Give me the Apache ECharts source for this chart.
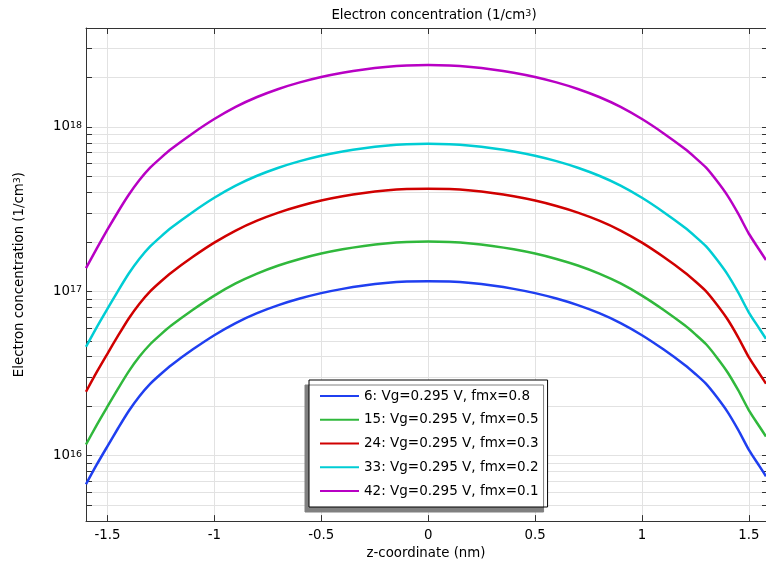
<!DOCTYPE html>
<html>
<head>
<meta charset="utf-8">
<script src="https://cdn.jsdelivr.net/npm/echarts@6/dist/echarts.min.js"></script>
<style>
  html, body { margin: 0; padding: 0; background: #fff; }
  #chart { width: 766px; height: 565px; }
</style>
</head>
<body>
<div id="chart"></div>
<script>
// z-coordinate (nm)
const zs = [-1.6, -1.55, -1.5, -1.45, -1.4, -1.35, -1.3, -1.25, -1.2, -1.1, -1.0, -0.9, -0.8, -0.7, -0.6, -0.5, -0.4, -0.3, -0.2, -0.1, 0,
  0.1, 0.2, 0.3, 0.4, 0.5, 0.6, 0.7, 0.8, 0.9, 1.0, 1.1, 1.2, 1.25, 1.3, 1.35, 1.4, 1.45, 1.5, 1.55, 1.58];

// electron concentration (1/cm^3) per curve
const n6 = [6.70e15, 8.81e15, 1.140e16, 1.469e16, 1.871e16, 2.301e16, 2.735e16, 3.141e16, 3.565e16, 4.436e16, 5.408e16, 6.412e16, 7.362e16, 8.241e16, 9.036e16, 9.750e16, 1.035e17, 1.084e17, 1.122e17, 1.146e17, 1.153e17,
  1.146e17, 1.122e17, 1.084e17, 1.035e17, 9.750e16, 9.036e16, 8.241e16, 7.362e16, 6.412e16, 5.408e16, 4.436e16, 3.565e16, 3.141e16, 2.735e16, 2.275e16, 1.849e16, 1.436e16, 1.084e16, 8.61e15, 7.50e15];
const n15 = [1.170e16, 1.535e16, 1.986e16, 2.559e16, 3.259e16, 4.008e16, 4.764e16, 5.472e16, 6.210e16, 7.728e16, 9.421e16, 1.117e17, 1.282e17, 1.436e17, 1.574e17, 1.698e17, 1.803e17, 1.888e17, 1.955e17, 1.996e17, 2.009e17,
  1.996e17, 1.955e17, 1.888e17, 1.803e17, 1.698e17, 1.574e17, 1.436e17, 1.282e17, 1.117e17, 9.421e16, 7.728e16, 6.210e16, 5.472e16, 4.764e16, 3.963e16, 3.221e16, 2.502e16, 1.888e16, 1.500e16, 1.307e16];
const n24 = [2.450e16, 3.221e16, 4.168e16, 5.371e16, 6.840e16, 8.412e16, 9.999e16, 1.148e17, 1.303e17, 1.622e17, 1.977e17, 2.344e17, 2.692e17, 3.013e17, 3.304e17, 3.565e17, 3.784e17, 3.963e17, 4.102e17, 4.190e17, 4.215e17,
  4.190e17, 4.102e17, 3.963e17, 3.784e17, 3.565e17, 3.304e17, 3.013e17, 2.692e17, 2.344e17, 1.977e17, 1.622e17, 1.303e17, 1.148e17, 9.999e16, 8.317e16, 6.760e16, 5.250e16, 3.963e16, 3.148e16, 2.742e16];
const n33 = [4.600e16, 6.040e16, 7.816e16, 1.007e17, 1.283e17, 1.578e17, 1.875e17, 2.153e17, 2.444e17, 3.041e17, 3.708e17, 4.396e17, 5.047e17, 5.650e17, 6.195e17, 6.685e17, 7.096e17, 7.432e17, 7.692e17, 7.857e17, 7.905e17,
  7.857e17, 7.692e17, 7.432e17, 7.096e17, 6.685e17, 6.195e17, 5.650e17, 5.047e17, 4.396e17, 3.708e17, 3.041e17, 2.444e17, 2.153e17, 1.875e17, 1.560e17, 1.268e17, 9.845e16, 7.432e16, 5.903e16, 5.142e16];
const n42 = [1.385e17, 1.820e17, 2.370e17, 3.050e17, 3.865e17, 4.754e17, 5.651e17, 6.489e17, 7.365e17, 9.165e17, 1.117e18, 1.325e18, 1.521e18, 1.703e18, 1.867e18, 2.014e18, 2.138e18, 2.240e18, 2.318e18, 2.368e18, 2.382e18,
  2.368e18, 2.318e18, 2.240e18, 2.138e18, 2.014e18, 1.867e18, 1.703e18, 1.521e18, 1.325e18, 1.117e18, 9.165e17, 7.365e17, 6.489e17, 5.651e17, 4.700e17, 3.820e17, 2.967e17, 2.240e17, 1.779e17, 1.550e17];

const seriesNames = ['6: Vg=0.295 V, fmx=0.8', '15: Vg=0.295 V, fmx=0.5', '24: Vg=0.295 V, fmx=0.3', '33: Vg=0.295 V, fmx=0.2', '42: Vg=0.295 V, fmx=0.1'];
const seriesValues = [n6, n15, n24, n33, n42];
const colors = ['#1f3ff0', '#30b83c', '#d00000', '#00cdd4', '#b800c4'];

const xTicks = [-1.5, -1, -0.5, 0, 0.5, 1, 1.5];
const yDecades = [16, 17, 18];
const yMin = 4e15, yMax = 4e18;

// log-spaced tick positions (1..9 x 10^n) inside the range
const yTicks = [];
for (let p = 15; p <= 18; p++) {
  for (let k = 1; k <= 9; k++) {
    const v = k * Math.pow(10, p);
    if (v >= yMin && v <= yMax) yTicks.push(Math.log10(v));
  }
}

const font = 'DejaVu Sans';
const fs = 13.33;
const axisColor = '#333';
const gridColor = '#e2e2e2';

const chart = echarts.init(document.getElementById('chart'));

const series = seriesValues.map((vals, i) => ({
  name: seriesNames[i],
  type: 'line',
  showSymbol: false,
  symbol: 'none',
  smooth: 0.25,
  lineStyle: { width: 2.5, color: colors[i] },
  itemStyle: { color: colors[i] },
  data: zs.map((z, j) => [z, Math.log10(vals[j])]),
}));

const supStyle = { fontSize: 9.5, fontFamily: font, verticalAlign: 'top', lineHeight: 9, color: '#000' };

const option = {
  animation: false,
  textStyle: { fontFamily: font },
  title: {
    text: 'Electron concentration (1/cm{s|3})',
    left: 429,
    top: 4,
    textAlign: 'center',
    textStyle: {
      fontFamily: font,
      fontSize: fs,
      fontWeight: 'normal',
      color: '#000',
      rich: { s: supStyle },
    },
  },
  grid: { left: 86, right: 0, top: 28, bottom: 40, containLabel: false },
  legend: {
    orient: 'vertical',
    left: 309,
    top: 380,
    padding: [9, 9, 9, 10],
    itemWidth: 39,
    itemHeight: 14,
    itemGap: 9.75,
    backgroundColor: '#fff',
    borderColor: '#000',
    borderWidth: 1,
    shadowColor: '#808080',
    shadowBlur: 0,
    shadowOffsetX: -4,
    shadowOffsetY: 5,
    itemStyle: { color: 'rgba(0,0,0,0)', borderColor: 'rgba(0,0,0,0)', borderWidth: 0 },
    textStyle: { fontFamily: font, fontSize: 13.5, color: '#000' },
    data: seriesNames,
  },
  xAxis: [
    {
      type: 'value',
      min: -1.6,
      max: 1.58,
      name: 'z-coordinate (nm)',
      nameLocation: 'middle',
      nameGap: 22,
      nameTextStyle: { fontFamily: font, fontSize: fs, color: '#000' },
      axisLine: { onZero: false, lineStyle: { color: axisColor, width: 1 } },
      axisTick: { inside: true, length: 6, customValues: xTicks, lineStyle: { color: axisColor } },
      axisLabel: { customValues: xTicks, margin: 8, fontFamily: font, fontSize: fs, color: '#000', formatter: (v) => String(v) },
      splitLine: { show: true, lineStyle: { color: gridColor, width: 1 } },
    },
    {
      type: 'value',
      position: 'top',
      min: -1.6,
      max: 1.58,
      axisLine: { onZero: false, lineStyle: { color: axisColor, width: 1 } },
      axisTick: { inside: true, length: 6, customValues: xTicks, lineStyle: { color: axisColor } },
      axisLabel: { show: false },
      splitLine: { show: false },
    },
  ],
  yAxis: [
    {
      type: 'value',
      min: Math.log10(yMin),
      max: Math.log10(yMax),
      name: 'Electron concentration (1/cm{s|3})',
      nameLocation: 'middle',
      nameGap: 60,
      nameTextStyle: {
        fontFamily: font,
        fontSize: fs,
        color: '#000',
        rich: { s: supStyle },
      },
      axisLine: { onZero: false, lineStyle: { color: axisColor, width: 1 } },
      axisTick: { inside: true, length: 6, customValues: yTicks, lineStyle: { color: axisColor } },
      axisLabel: {
        customValues: yDecades,
        margin: 4,
        formatter: (v) => '{b|10}{s|' + Math.round(v) + '}',
        rich: {
          b: { fontFamily: font, fontSize: fs, lineHeight: 13, color: '#000', verticalAlign: 'bottom', padding: [6, 0, 0, 0] },
          s: { fontFamily: font, fontSize: 9.5, lineHeight: 9, color: '#000', verticalAlign: 'top' },
        },
      },
      splitLine: { show: true, lineStyle: { color: gridColor, width: 1 } },
    },
    {
      type: 'value',
      position: 'right',
      min: Math.log10(yMin),
      max: Math.log10(yMax),
      axisLine: { onZero: false, lineStyle: { color: axisColor, width: 1 } },
      axisTick: { inside: true, length: 4, customValues: yTicks, lineStyle: { color: axisColor } },
      axisLabel: { show: false },
      splitLine: { show: false },
    },
  ],
  series: series,
};

chart.setOption(option);
</script>
</body>
</html>
